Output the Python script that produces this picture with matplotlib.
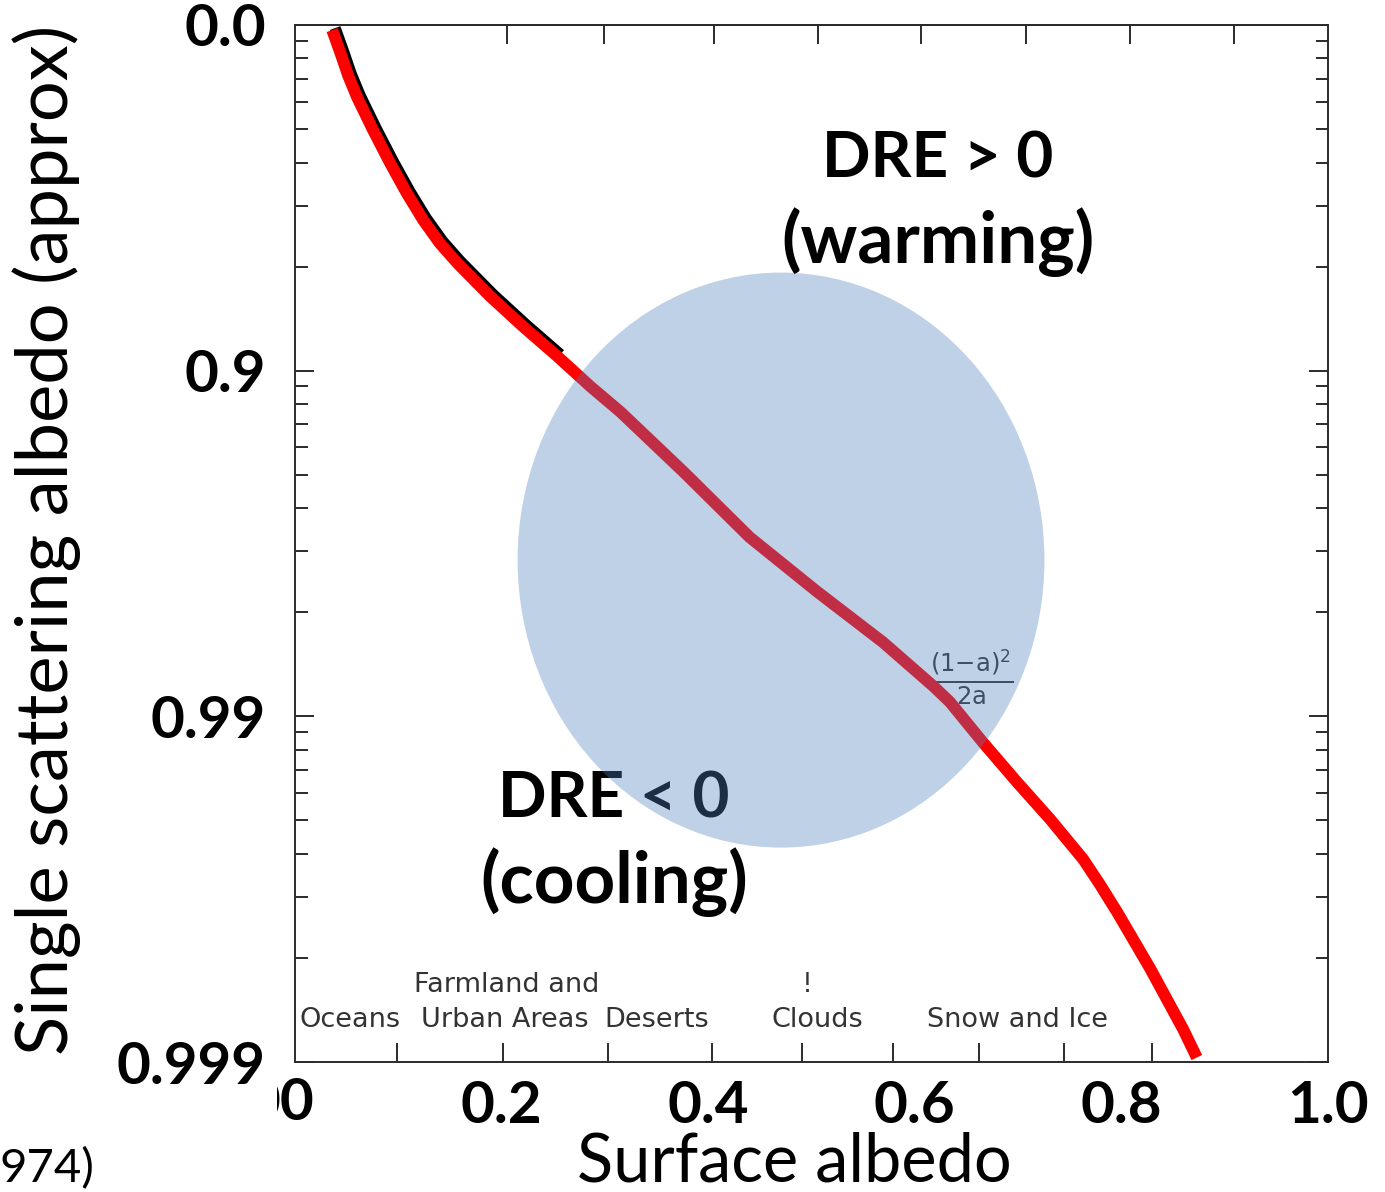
import matplotlib
matplotlib.use("Agg")
import matplotlib.pyplot as plt
from matplotlib.patches import Ellipse, Rectangle
from matplotlib.ticker import LogLocator, NullFormatter, FixedLocator
import matplotlib.transforms as mtransforms
import numpy as np

# ---------------- data ----------------
surface_albedo = [0.036, 0.044, 0.0513, 0.060, 0.0755, 0.092, 0.108, 0.124, 0.140,
                  0.157, 0.189, 0.221, 0.254, 0.286, 0.315, 0.376, 0.440, 0.505,
                  0.569, 0.618, 0.634, 0.666, 0.699, 0.731, 0.747, 0.763, 0.779,
                  0.796, 0.828, 0.860, 0.873]
single_scatter_albedo = [0.033, 0.170, 0.284, 0.381, 0.503, 0.601, 0.673, 0.727, 0.766,
                         0.795, 0.836, 0.866, 0.890, 0.910, 0.924, 0.949, 0.967, 0.977,
                         0.9836, 0.98778, 0.9890, 0.9916, 0.99355, 0.99496, 0.99559,
                         0.99614, 0.99673, 0.99729, 0.99814, 0.99876, 0.99897]

x_tick_values = [0.0, 0.2, 0.4, 0.6, 0.8, 1.0]
x_tick_labels = ["", "0.2", "0.4", "0.6", "0.8", "1.0"]
y_tick_values = [1.0, 0.1, 0.01, 0.001]          # 1 - single scattering albedo
y_tick_labels = ["0.0", "0.9", "0.99", "0.999"]

scan_bottom_ticks = [0.099, 0.201, 0.303, 0.404, 0.491, 0.579, 0.662, 0.744, 0.830]
scan_top_ticks = [0.205, 0.299, 0.406, 0.506, 0.606, 0.708, 0.808, 0.909]

surface_types = ["Oceans", "Urban Areas", "Deserts", "Clouds", "Snow and Ice"]
surface_type_x = [0.053, 0.203, 0.350, 0.506, 0.699]
upper_labels = ["Farmland and", "!"]
upper_labels_x = [0.205, 0.496]

x_label = "Surface albedo"
y_label = "Single scattering albedo (approx)"

# ---------------- figure ----------------
W, H, DPI = 1385, 1192, 100
fig = plt.figure(figsize=(W / DPI, H / DPI), dpi=DPI)
fig.patch.set_facecolor("white")

L, R, B, T = 295, 1328, 1062, 25
ax = fig.add_axes([L / W, 1 - B / H, (R - L) / W, (B - T) / H])

FONT = "Lato"
scan_col = "#2b2b2b"

ax.set_yscale("log")
ax.set_xlim(0, 1)
ax.set_ylim(0.001, 1.0)

coalb = 1 - np.array(single_scatter_albedo)

# original black curve of the scan (visible at the upper part only)
n_black = 13
shift = mtransforms.offset_copy(ax.transData, fig=fig, x=3, y=2, units="dots")
ax.plot(surface_albedo[:n_black], coalb[:n_black], color="black", lw=8,
        solid_capstyle="butt", solid_joinstyle="round", transform=shift, zorder=2)
ax.plot(surface_albedo, coalb, color="#ff0000", lw=8.5, solid_capstyle="butt",
        solid_joinstyle="round", zorder=3, clip_on=False)

# annotations under the translucent disk
tkw = dict(transform=ax.transAxes, ha="center", va="baseline",
           family=FONT, fontweight="bold", color="black", zorder=1)
ax.text(0.622, 0.8525, "DRE > 0", fontsize=46, **tkw)
ax.text(0.622, 0.7705, "(warming)", fontsize=51, **tkw)
ax.text(0.309, 0.2353, "DRE < 0", fontsize=46, **tkw)
ax.text(0.309, 0.1533, "(cooling)", fontsize=51, **tkw)

ax.text(0.655, 0.372, r"$\frac{\mathrm{(1{-}a)^2}}{\mathrm{2a}}$", transform=ax.transAxes,
        ha="center", va="center", fontsize=25, color="#333333", zorder=1)

for lab, xx in zip(surface_types, surface_type_x):
    ax.text(xx, 0.0338, lab, transform=ax.transAxes, ha="center", va="baseline",
            fontsize=19.5, color="#333333", family="DejaVu Sans", zorder=1)
for lab, xx in zip(upper_labels, upper_labels_x):
    ax.text(xx, 0.0675, lab, transform=ax.transAxes, ha="center", va="baseline",
            fontsize=19.5, color="#333333", family="DejaVu Sans", zorder=1)

disk = Ellipse((0.4705, 0.484), 0.510, 0.5545, transform=ax.transAxes,
               facecolor="#4F81BD", alpha=0.36, edgecolor="none", zorder=4)
ax.add_patch(disk)

# ---------------- axes styling ----------------
for s in ax.spines.values():
    s.set_color(scan_col)
    s.set_linewidth(1.4)

ax.set_xticks(x_tick_values)
ax.set_xticklabels(x_tick_labels)
ax.xaxis.set_minor_locator(FixedLocator(scan_bottom_ticks))
ax.tick_params(axis="x", which="major", length=0, pad=13, labelsize=42)
ax.tick_params(axis="x", which="minor", direction="in", length=14, width=1.4,
               color=scan_col, bottom=True, top=False)

ax.set_yticks(y_tick_values)
ax.set_yticklabels(y_tick_labels)
ax.yaxis.set_minor_locator(LogLocator(base=10, subs=np.arange(2, 10)))
ax.yaxis.set_minor_formatter(NullFormatter())
ax.tick_params(axis="y", which="major", direction="in", length=14, width=1.4,
               color=scan_col, left=True, right=True, pad=21, labelsize=42)
ax.tick_params(axis="y", which="minor", direction="in", length=9, width=1.4,
               color=scan_col, left=True, right=True)

for lab in ax.get_xticklabels() + ax.get_yticklabels():
    lab.set_family(FONT)
    lab.set_fontweight("bold")

secx = ax.secondary_xaxis("top")
secx.set_xticks(scan_top_ticks)
secx.set_xticklabels([""] * len(scan_top_ticks))
secx.tick_params(direction="in", length=14, width=1.4, color=scan_col)
secx.spines["top"].set_color(scan_col)
secx.spines["top"].set_linewidth(1.4)

ax.set_xlabel(x_label, family=FONT, fontsize=48)
ax.xaxis.set_label_coords(0.483, -0.067)
ax.set_ylabel(y_label, family=FONT, fontsize=52)
ax.yaxis.set_label_coords(-0.207, 0.503)

# partially hidden "0" label at the origin of the x axis
t0 = fig.text(314 / W, 1 - 1120 / H, "00", ha="right", va="baseline",
              family=FONT, fontweight="bold", fontsize=42, color="black")
clip = Rectangle((277 / W, 0), 50 / W, 1, transform=fig.transFigure)
t0.set_clip_path(clip)

fig.text(0.0, 1 - 1182 / H, "974)", ha="left", va="baseline",
         family=FONT, fontsize=34, color="black")

fig.savefig("out.png", dpi=DPI, facecolor="white")
